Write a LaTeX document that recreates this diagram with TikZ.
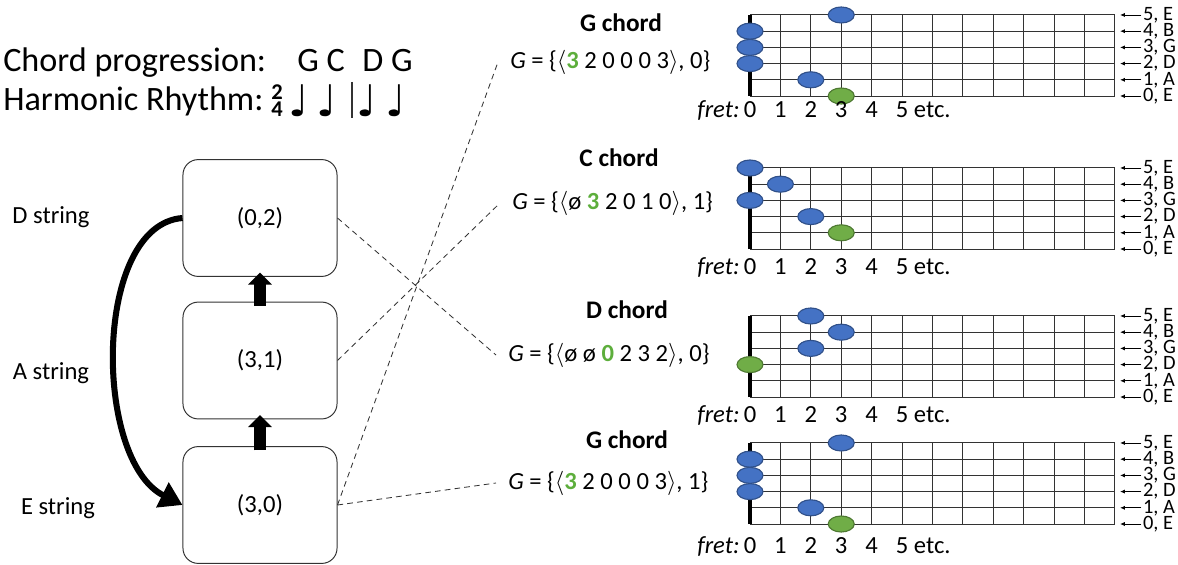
\documentclass[tikz,border=0pt]{standalone}
\usepackage{fontspec}
\setmainfont{Carlito}
\newfontfamily\notefont{DejaVu Sans}
\usetikzlibrary{arrows.meta,positioning}
\definecolor{fretblue}{HTML}{4472C4}
\definecolor{fretgreen}{HTML}{70AD47}
\definecolor{rootgreen}{HTML}{5DAE3C}
\newcommand{\rootnum}[1]{\textcolor{rootgreen}{\textbf{#1}}}

\begin{document}
\begin{tikzpicture}[
    x=0.025cm, y=-0.025cm,
    >={Latex[length=3.5pt,width=3pt]},
    font=\fontsize{17.5}{21}\selectfont,
    state/.style={
        rectangle,
        rounded corners=0.38cm,
        draw=black!80,
        line width=0.7pt,
        minimum width=3.85cm,
        minimum height=2.92cm
    },
    heading/.style={font=\fontsize{24.3}{28}\selectfont, anchor=base west, inner sep=0},
    note/.style={font=\notefont\fontsize{31}{33}\selectfont, anchor=base, inner sep=0},
    stepup/.style={line width=8.5pt, -{Triangle[width=16.5pt,length=8.5pt]}, shorten <=-3pt, shorten >=-3pt},
    jump/.style={line width=4.3pt, -{Triangle[width=19pt,length=16pt]}},
    link/.style={dash pattern=on 4pt off 3pt, line width=0.6pt, black!80},
    chord/.style={font=\bfseries\fontsize{18}{21}\selectfont},
    formula/.style={anchor=west, inner xsep=0.3cm, inner ysep=1pt},
    fretline/.style={line width=0.7pt, black!80},
    nutline/.style={line width=3.2pt, black},
    fingerdot/.style={line width=0.8pt},
    strlabel/.style={anchor=west, inner sep=0, font=\fontsize{14.5}{15}\selectfont},
    fretnum/.style={inner sep=0, anchor=base},
    pics/fretboard/.style n args={2}{code={
        \begin{scope}[x=0.76cm, y=0.405cm]
          \foreach \f in {0,...,12} \draw[fretline] (\f,0) -- (\f,5);
          \foreach \s in {0,...,5} \draw[fretline] (0,\s) -- (12,\s);
          \draw[nutline] (0,0) -- (0,5);
          \foreach \s/\nm in {0/E,1/A,2/D,3/G,4/B,5/E}{
            \node[strlabel] (s\s) at (12.92,\s) {\s, \nm};
            \coordinate (e\s) at (12.17,\s);
            \draw[->, line width=0.6pt, shorten <=1pt] (s\s) -- (e\s);
          }
          \foreach \f/\s/\c in {#2}
            \draw[fingerdot, fill=\c, draw=\c!70!black] (\f,\s) ellipse [x radius=0.325cm, y radius=0.2cm];
          \node[fretnum, anchor=base east] (fret) at (-0.33,-#1) {\textit{fret:}};
          \foreach \f in {0,...,4} \node[fretnum] (f\f) at (\f,-#1) {\f};
          \node[fretnum, anchor=base west] (f5) at (4.79,-#1) {5 etc.};
        \end{scope}
    }}
  ]
  \useasboundingbox (0,0) rectangle (1178,565);

  % progression and rhythm
  \node[heading] (prog) at (3,72) {Chord progression:};
  \node[heading] (chordsA) at (297,72) {G C};
  \node[heading] (chordsB) at (362,72) {D G};
  \node[heading] (rhythm) at (3,110) {Harmonic Rhythm:};
  \node[font=\rmfamily\bfseries\fontsize{16}{12}\selectfont, align=center, inner sep=0] (meter) at (277,101) {2\\4};
  \node[note] (n1) at (299,117) {♩};
  \node[note] (n2) at (327,117) {♩};
  \node[note] (n3) at (367,117) {♩};
  \node[note] (n4) at (396,117) {♩};
  \draw[line width=0.8pt, black!80] (352,82) -- (352,118);

  % string states
  \node (dstr) at (51,217) {D string};
  \node (astr) at (51,373) {A string};
  \node (estr) at (58,508) {E string};

  \node[state] (pos02) at (260,218) {(0,2)};
  \node[state] (pos31) at (260,360.5) {(3,1)};
  \node[state] (pos30) at (260,505) {(3,0)};

  \draw[stepup] (pos31) -- (pos02);
  \draw[stepup] (pos30) -- (pos31);
  \draw[jump] (pos02.west) .. controls (93,225) and (93,460) .. (pos30.west);

  % chords
  \node[chord] (tG1) at (621,23) {G chord};
  \node[formula] (fG1) at (498,62) {\textit{G} = \{$\langle$\rootnum{3} 2 0 0 0 3$\rangle$, 0\}};
  \node[chord] (tC) at (619,158) {C chord};
  \node[formula] (fC) at (500,203) {\textit{G} = \{$\langle$ø \rootnum{3} 2 0 1 0$\rangle$, 1\}};
  \node[chord] (tD) at (627,310) {D chord};
  \node[formula] (fD) at (496,355) {\textit{G} = \{$\langle$ø ø \rootnum{0} 2 3 2$\rangle$, 0\}};
  \node[chord] (tG2) at (627,440) {G chord};
  \node[formula] (fG2) at (496,483) {\textit{G} = \{$\langle$\rootnum{3} 2 0 0 0 3$\rangle$, 1\}};

  \draw[link] (pos02.east) -- (fD.west);
  \draw[link] (pos31.east) -- (fC.west);
  \draw[link] (pos30.east) -- (fG1.west);
  \draw[link] (pos30.east) -- (fG2.west);

  % fretboards
  \pic (fbG1) at (750,96) {fretboard={1.3}{3/5/fretblue,0/4/fretblue,0/3/fretblue,0/2/fretblue,2/1/fretblue,3/0/fretgreen}};
  \pic (fbC) at (750,249) {fretboard={1.6}{0/5/fretblue,1/4/fretblue,0/3/fretblue,2/2/fretblue,3/1/fretgreen}};
  \pic (fbD) at (750,397) {fretboard={1.6}{2/5/fretblue,3/4/fretblue,2/3/fretblue,0/2/fretgreen}};
  \pic (fbG2) at (750,524) {fretboard={1.8}{3/5/fretblue,0/4/fretblue,0/3/fretblue,0/2/fretblue,2/1/fretblue,3/0/fretgreen}};
\end{tikzpicture}
\end{document}
